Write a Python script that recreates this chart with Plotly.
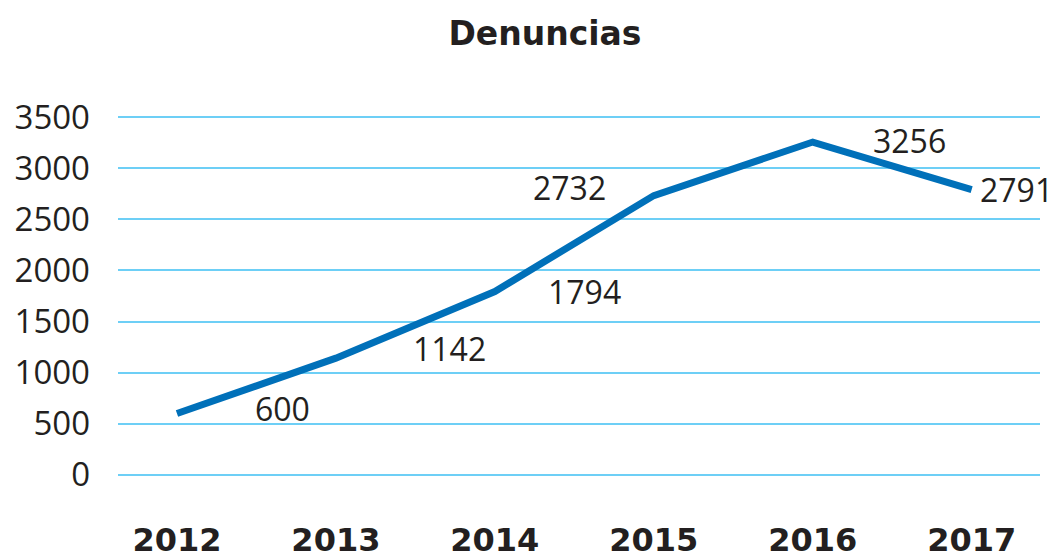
import plotly.graph_objects as go

years = ["2012", "2013", "2014", "2015", "2016", "2017"]
denuncias = [600, 1142, 1794, 2732, 3256, 2791]
y_ticks = [0, 500, 1000, 1500, 2000, 2500, 3000, 3500]

# label offsets (px) relative to each point
label_dx = [106, 114, 90, -84, 97, 45]
label_dy = [5, 10, 0, 8, 2, 0]

x_idx = list(range(len(years)))

fig = go.Figure()
fig.add_trace(go.Scatter(
    x=x_idx, y=denuncias, mode="lines",
    line=dict(color="#0070b9", width=7),
    hoverinfo="skip", showlegend=False,
))

for i, v in enumerate(denuncias):
    fig.add_annotation(
        x=x_idx[i], y=v, text=str(v), showarrow=False,
        xshift=label_dx[i], yshift=label_dy[i],
        font=dict(family="Open Sans", size=32, color="#231f20"),
        xanchor="center", yanchor="middle",
    )

W, H = 1051, 550
fig.update_layout(
    width=W, height=H,
    margin=dict(l=110, r=19, t=104, b=78),
    paper_bgcolor="white", plot_bgcolor="white",
    title=dict(text="<b>Denuncias</b>", x=537 / W, xanchor="center",
               y=1 - 25 / H, yanchor="middle", yref="container",
               font=dict(family="DejaVu Sans", size=33, color="#231f20")),
    xaxis=dict(
        tickmode="array", tickvals=x_idx, ticktext=[f"<b>{y}</b>" for y in years],
        range=[-0.371, 5.43], showgrid=False, zeroline=False, showline=False,
        ticks="", ticklabelstandoff=38, automargin=False,
        tickfont=dict(family="DejaVu Sans", size=32, color="#231f20"),
    ),
    yaxis=dict(
        tickmode="array", tickvals=y_ticks, range=[-50, 3550],
        showgrid=True, gridcolor="#6dcff6", gridwidth=2,
        zeroline=False, showline=False, ticks="", ticklabelstandoff=27,
        automargin=False,
        tickfont=dict(family="Open Sans", size=33, color="#231f20"),
    ),
)

fig.write_html("out.html")
